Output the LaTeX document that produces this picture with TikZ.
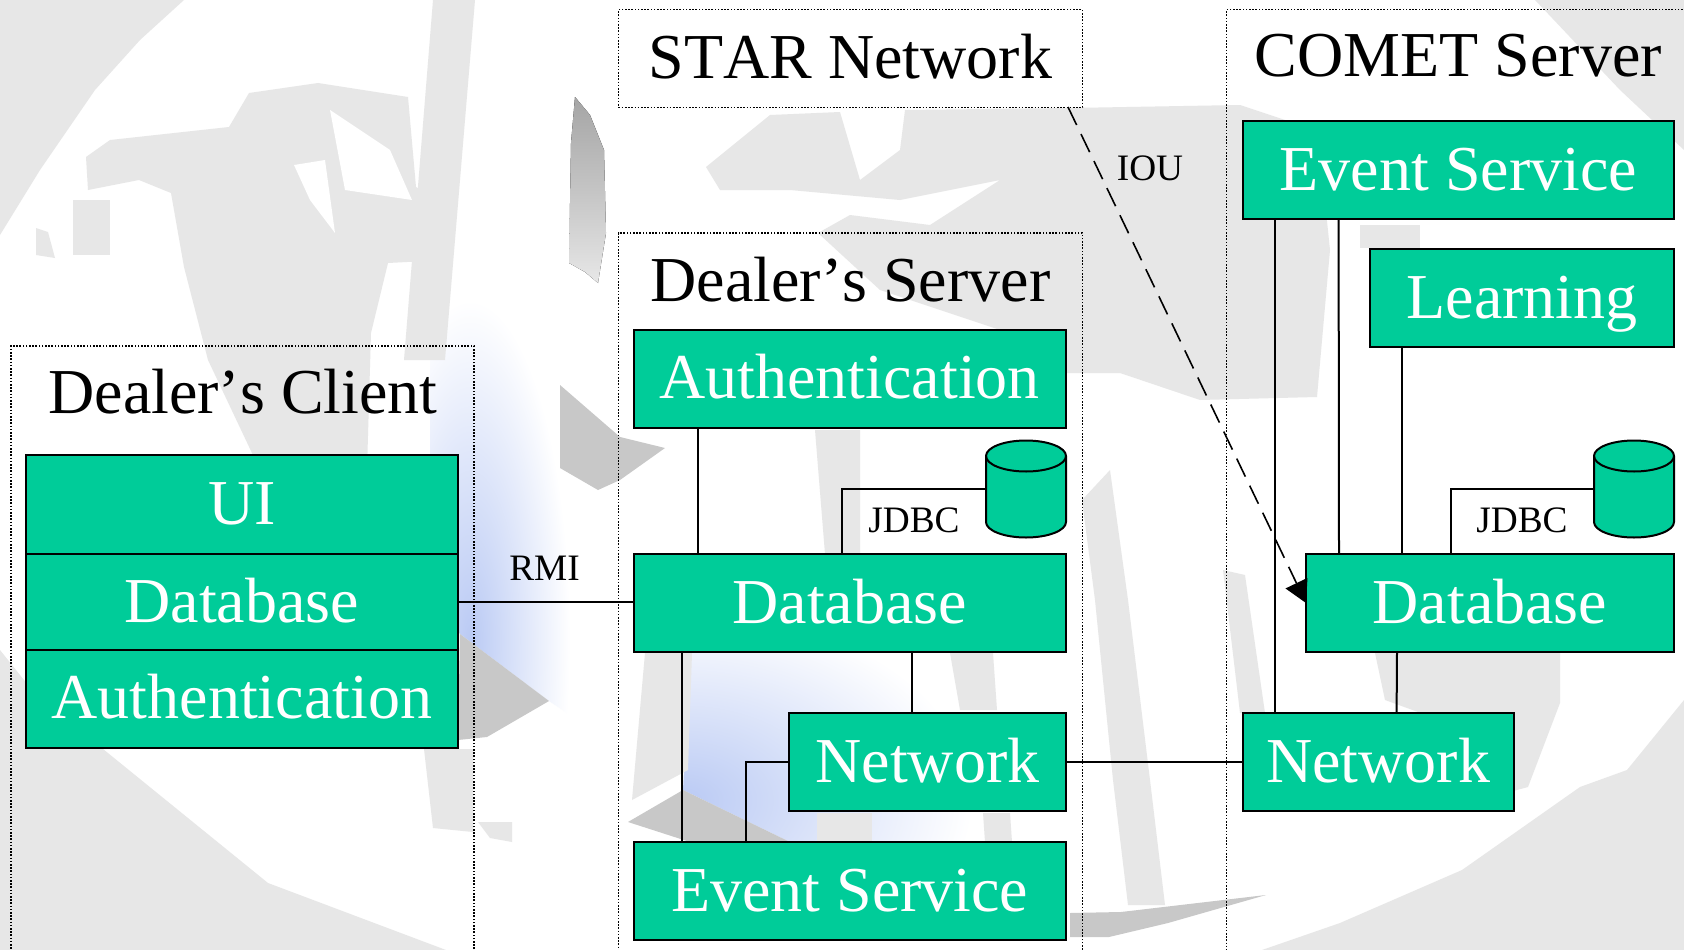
\documentclass[tikz,border=0pt]{standalone}
\usepackage{fontspec}
\setmainfont{Liberation Serif}[Kerning=Off]
\usetikzlibrary{arrows.meta}
\definecolor{boxgreen}{RGB}{0,204,153}
\definecolor{wgray}{RGB}{231,231,231}
\definecolor{dgray}{RGB}{200,200,200}
\definecolor{sgray}{RGB}{165,165,165}
\definecolor{glow}{RGB}{186,202,244}
\tikzset{
  x=1pt,y=-1pt,
  comp/.style={draw=black,fill=boxgreen,text=white,line width=2pt,rectangle,inner sep=0pt,outer sep=0pt,anchor=north west,
    font=\fontsize{64}{64}\selectfont,text height=40pt,text depth=0pt,align=center},
  group/.style={draw=black,line width=1.5pt,dash pattern=on 1.6pt off 1.6pt,rectangle,inner sep=0pt,outer sep=0pt,anchor=north west},
  title/.style={anchor=base,font=\fontsize{64}{64}\selectfont,inner sep=0pt},
  small/.style={anchor=base,font=\fontsize{37.3}{37.3}\selectfont,inner sep=0pt},
  link/.style={draw=black,line width=2pt},
  store/.style={rectangle,minimum width=80pt,minimum height=96pt,inner sep=0pt,outer sep=0pt,anchor=center},
  storebody/.style={draw=black,fill=boxgreen,line width=2pt},
  wm/.style={fill=wgray,draw=none},
  wd/.style={fill=dgray,draw=none}
}
\begin{document}
\begin{tikzpicture}
\useasboundingbox (0,0) rectangle (1684,950);
\clip (0,0) rectangle (1684,950);
% watermark background
\fill[white] (0,0) rectangle (1684,950);
\begin{scope}
  \clip (430,230) -- (570,230) -- (570,715) -- (549,701) -- (460,634) -- (430,600) -- cycle;
  \shade[inner color=glow,outer color=white] (370,300) rectangle (570,980);
\end{scope}
\begin{scope}
  \clip (690,653) -- (1010,653) -- (1010,842) -- (790,842) -- (683,790) -- cycle;
  \shade[inner color=glow,outer color=white] (393,610) rectangle (973,990);
\end{scope}
\fill[wm] (0,0) -- (184,0) -- (140,40) -- (95,90) -- (40,170) -- (0,235) -- cycle;
\fill[wm] (1535,0) -- (1684,0) -- (1684,150) -- (1620,90) -- cycle;
\fill[wm] (1262,950) -- (1340,923) -- (1462,870) -- (1580,787) -- (1627,770) -- (1684,700) -- (1684,950) -- cycle;
\fill[wm] (0,650) -- (40,700) -- (103,749) -- (268,883) -- (446,950) -- (0,950) -- cycle;
\fill[wm] (110,140) -- (229,127) -- (249,93) -- (318,83) -- (408,97) -- (416,187) -- (449,207) -- (445,260) -- (388,263) -- (371,333) -- (367,470) -- (260,470) -- (208,360) -- (184,267) -- (171,193) -- (139,180) -- (88,190) -- (86,157) -- cycle;
\fill[white] (294,165) -- (325,160) -- (335,233) -- (310,200) -- cycle;
\fill[white] (330,110) -- (390,150) -- (412,200) -- (345,190) -- cycle;
\fill[wm] (73,200) -- (110,200) -- (110,255) -- (73,255) -- cycle;
\fill[wm] (36,228) -- (48,232) -- (55,258) -- (36,255) -- cycle;
\fill[wm] (433,0) -- (475,0) -- (445,360) -- (404,360) -- cycle;
\fill[wm] (424,749) -- (473,749) -- (473,832) -- (433,828) -- cycle;
\fill[wm] (478,822) -- (512,822) -- (512,842) -- (490,838) -- cycle;
\fill[wm] (706,167) -- (770,115) -- (840,112) -- (860,180) -- (900,150) -- (905,110) -- (1070,108) -- (1240,105) -- (1300,125) -- (1317,125) -- (1330,250) -- (1317,397) -- (1200,400) -- (1120,373) -- (1063,373) -- (1000,330) -- (880,290) -- (818,233) -- (850,215) -- (930,225) -- (1000,180) -- (900,200) -- (790,190) -- (720,190) -- cycle;
\fill[wm] (1375,653) -- (1560,653) -- (1560,703) -- (1528,787) -- (1480,800) -- (1440,720) -- (1385,700) -- cycle;
\fill[wm] (1082,500) -- (1110,470) -- (1128,600) -- (1150,780) -- (1165,905) -- (1128,905) -- (1113,780) -- (1095,600) -- cycle;
\fill[wm] (1223,570) -- (1245,575) -- (1265,713) -- (1240,713) -- cycle;
\fill[wm] (950,653) -- (993,653) -- (997,710) -- (960,710) -- cycle;
\fill[wm] (983,813) -- (1010,813) -- (1012,842) -- (985,842) -- cycle;
\fill[wm] (645,653) -- (692,653) -- (688,770) -- (632,800) -- cycle;
\fill[wm] (817,813) -- (872,813) -- (872,842) -- (817,842) -- cycle;
\fill[wm] (815,430) -- (860,430) -- (860,554) -- (825,554) -- cycle;
\fill[wm] (1360,225) -- (1420,225) -- (1420,248) -- (1360,248) -- cycle;
\fill[top color=sgray,bottom color=wgray,middle color=wgray!85!black,draw=none] (575,97) -- (590,115) -- (604,150) -- (606,233) -- (598,283) -- (585,272) -- (569,263) -- (571,143) -- cycle;
\fill[wd] (560,385) -- (620,437) -- (665,448) -- (620,480) -- (598,490) -- (560,468) -- cycle;
\fill[wd] (628,822) -- (683,790) -- (790,842) -- (690,842) -- cycle;
\fill[wd] (460,634) -- (549,701) -- (487,737) -- (458,740) -- cycle;
\fill[wd] (1070,913) -- (1121,912) -- (1266,895) -- (1168,923) -- (1109,937) -- (1070,937) -- cycle;

% groups
\node[group,minimum width=463pt,minimum height=700pt] (gclient) at (11,346) {};
\node[group,minimum width=464pt,minimum height=97.7pt] (gstar) at (618.5,9.7) {};
\node[group,minimum width=464pt,minimum height=800pt] (gserver) at (618.5,233) {};
\node[group,minimum width=600pt,minimum height=1000pt] (gcomet) at (1226.5,9.7) {};

% titles
\node[title] (tclient) at (243,413.5) {Dealer’s Client};
\node[title] (tstar) at (850.5,78.5) {STAR Network};
\node[title] (tserver) at (850.5,301) {Dealer’s Server};
\node[title] (tcomet) at (1458.5,77) {COMET Server};

% components
\node[comp,minimum width=432pt,minimum height=99pt] (cui) at (25.8,455) {UI};
\node[comp,minimum width=432pt,minimum height=96pt] (cdb) at (25.8,554) {Database};
\node[comp,minimum width=432pt,minimum height=97.5pt] (cauth) at (25.8,650) {Authentication};

\node[comp,minimum width=432pt,minimum height=98pt] (sauth) at (633.7,329.7) {Authentication};
\node[comp,minimum width=432pt,minimum height=98pt] (sdb) at (633.7,554) {Database};
\node[comp,minimum width=277pt,minimum height=98pt] (snet) at (789,713) {Network};
\node[comp,minimum width=432pt,minimum height=98pt] (sevent) at (633.7,842) {Event Service};
\node[store] (sstore) at (1026,489) {};

\node[comp,minimum width=431.5pt,minimum height=98pt] (xevent) at (1242.6,121) {Event Service};
\node[comp,minimum width=304pt,minimum height=98pt] (xlearn) at (1370,249) {Learning};
\node[comp,minimum width=368pt,minimum height=98pt] (xdb) at (1306,554) {Database};
\node[comp,minimum width=271pt,minimum height=98pt] (xnet) at (1242.6,713) {Network};
\node[store] (xstore) at (1634,489) {};

% database cylinders
\foreach \n in {sstore,xstore}{
  \path[storebody] (\n.center) ++(-40,-33) arc[start angle=180,end angle=0,x radius=40pt,y radius=15.5pt]
     -- ++(0,66) arc[start angle=0,end angle=-180,x radius=40pt,y radius=15.5pt] -- cycle;
  \draw[storebody,fill=none] (\n.center) ++(-40,-33) arc[start angle=180,end angle=360,x radius=40pt,y radius=15.5pt];
}

% connectors
\coordinate (ioustart) at (1068,107);
\draw[link] (cdb.east) -- (cdb.east -| sdb.west);
\draw[link] ([xshift=64pt]sauth.south west) -- ([xshift=64pt]sdb.north west);
\draw[link] (sstore.west) -| ([xshift=208pt]sdb.north west);
\draw[link] ([xshift=278pt]sdb.south west) -- ([xshift=278pt]sdb.south west |- snet.north);
\draw[link] ([xshift=48pt]sdb.south west) -- ([xshift=48pt]sevent.north west);
\draw[link] (snet.west) -| ([xshift=112pt]sevent.north west);
\draw[link] (snet.east) -- (xnet.west);
\draw[link] ([xshift=32pt]xevent.south west) -- ([xshift=32pt]xnet.north west);
\draw[link] ([xshift=96pt]xevent.south west) -- ([xshift=33pt]xdb.north west);
\draw[link] ([xshift=32pt]xlearn.south west) -- ([xshift=96pt]xdb.north west);
\draw[link] (xstore.west) -| ([xshift=145pt]xdb.north west);
\draw[link] ([xshift=91pt]xdb.south west) -- ([xshift=154pt]xnet.north west);
\draw[line width=1.6pt,dash pattern=on 20pt off 10pt,-{Triangle[length=22pt,width=24pt]}] (ioustart) -- (xdb.west);

% labels
\node[small] (lrmi) at (544.5,580) {RMI};
\node[small] (ljdbca) at (914,532) {JDBC};
\node[small] (ljdbcb) at (1522,532) {JDBC};
\node[small] (liou) at (1150,180.5) {IOU};
\end{tikzpicture}
\end{document}
